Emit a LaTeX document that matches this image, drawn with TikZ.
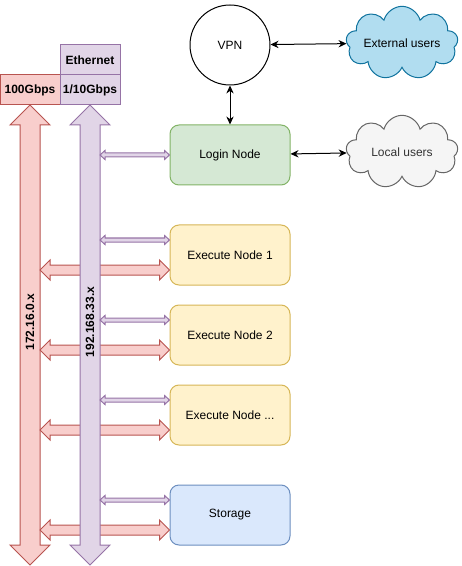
\documentclass[tikz,border=0pt]{standalone}
\usepackage{fontspec}
\setmainfont{Liberation Sans}
\usetikzlibrary{%
  arrows.meta,%
  calc,%
  positioning,%
  shapes.symbols% wg. cloud
}
\definecolor{redfill}{HTML}{F8CECC}
\definecolor{redline}{HTML}{B85450}
\definecolor{purfill}{HTML}{E1D5E7}
\definecolor{purline}{HTML}{9673A6}
\definecolor{grnfill}{HTML}{D5E8D4}
\definecolor{grnline}{HTML}{82B366}
\definecolor{ylwfill}{HTML}{FFF2CC}
\definecolor{ylwline}{HTML}{D6B656}
\definecolor{blufill}{HTML}{DAE8FC}
\definecolor{bluline}{HTML}{6C8EBF}
\definecolor{extfill}{HTML}{B1DDF0}
\definecolor{extline}{HTML}{10739E}
\definecolor{locfill}{HTML}{F5F5F5}
\definecolor{locline}{HTML}{666666}
\definecolor{loctext}{HTML}{333333}

% fat double arrow: style, from, to, half body, half head, head length
\newcommand{\fatlink}[6]{%
  \path[#1] let \p1=#2, \p2=#3 in
    (\x1,\y1) -- (\x1+#6,\y1+#5) -- (\x1+#6,\y1+#4) -- (\x2-#6,\y2+#4) -- (\x2-#6,\y2+#5)
    -- (\x2,\y2) -- (\x2-#6,\y2-#5) -- (\x2-#6,\y2-#4) -- (\x1+#6,\y1-#4) -- (\x1+#6,\y1-#5) -- cycle;}

\begin{document}
\begin{tikzpicture}
[x=0.75pt, y=-0.75pt, font=\fontsize{9}{11}\selectfont, line width=0.75pt,
hdr/.style={rectangle, draw, inner sep=0pt, minimum width=45pt, minimum height=22.5pt, font=\fontsize{9}{11}\selectfont\bfseries},
box/.style={rectangle, draw, rounded corners=6.75pt, inner sep=0pt, minimum width=90pt, minimum height=45pt},
execbox/.style={box, fill=ylwfill, draw=ylwline},
users/.style={cloud, cloud puffs=9, cloud ignores aspect, draw, inner sep=0pt, minimum width=84pt, minimum height=55pt},
link/.style={{Stealth[length=6pt,width=5.5pt]}-{Stealth[length=6pt,width=5.5pt]}, line width=0.75pt},
redbar/.style={draw=redline, fill=redfill},
purbar/.style={draw=purline, fill=purfill},
netlabel/.style={rotate=90, font=\fontsize{9}{11}\selectfont\bfseries}
]
\useasboundingbox (0,0) rectangle (461,566);

% headers
\node[hdr, fill=redfill, draw=redline] (speed100) at (30,90) {100Gbps};
\node[hdr, fill=purfill, draw=purline] (speed10) at (90,90) {1/10Gbps};
\node[hdr, fill=purfill, draw=purline] (eth) at (90,60) {Ethernet};

% outside
\node[circle, draw, inner sep=0pt, minimum size=60pt] (vpn) at (230,45) {VPN};
\node[users, draw=extline, fill=extfill] (extusers) at (402,43) {External users};
\node[users, draw=locline, fill=locfill, text=loctext] (locusers) at (402,152) {Local users};

% cluster
\node[box, fill=grnfill, draw=grnline] (login) at (230,155) {Login Node};
\node[execbox] (exec1) at (230,255) {Execute Node 1};
\node[execbox] (exec2) at (230,335) {Execute Node 2};
\node[execbox] (exec3) at (230,415) {Execute Node ...};
\node[box, fill=blufill, draw=bluline] (storage) at (230,515) {Storage};

\draw[link] (vpn) -- (extusers);
\draw[link] (vpn) -- (login);
\draw[link] (login) -- (locusers);

% 100Gbps network
\draw[redbar] (30,105) -- (50,125) -- (40,125) -- (40,545) -- (50,545) -- (30,565)
  -- (10,545) -- (20,545) -- (20,125) -- (10,125) -- cycle;
\coordinate (redtap) at (40,0);
\fatlink{redbar}{($(redtap |- exec1.west)+(0,15)$)}{($(exec1.west)+(0,15)$)}{3.75pt}{7.5pt}{7.5pt}
\fatlink{redbar}{($(redtap |- exec2.west)+(0,15)$)}{($(exec2.west)+(0,15)$)}{3.75pt}{7.5pt}{7.5pt}
\fatlink{redbar}{($(redtap |- exec3.west)+(0,15)$)}{($(exec3.west)+(0,15)$)}{3.75pt}{7.5pt}{7.5pt}
\fatlink{redbar}{($(redtap |- storage.west)+(0,15)$)}{($(storage.west)+(0,15)$)}{3.75pt}{7.5pt}{7.5pt}

% ethernet
\draw[purbar] (90,105) -- (110,125) -- (100,125) -- (100,545) -- (110,545) -- (90,565)
  -- (70,545) -- (80,545) -- (80,125) -- (70,125) -- cycle;
\coordinate (purtap) at (100,0);
\fatlink{purbar}{(purtap |- login.west)}{(login.west)}{1.5pt}{3.4pt}{3.75pt}
\fatlink{purbar}{($(purtap |- exec1.west)+(0,-15)$)}{($(exec1.west)+(0,-15)$)}{1.5pt}{3.4pt}{3.75pt}
\fatlink{purbar}{($(purtap |- exec2.west)+(0,-15)$)}{($(exec2.west)+(0,-15)$)}{1.5pt}{3.4pt}{3.75pt}
\fatlink{purbar}{($(purtap |- exec3.west)+(0,-15)$)}{($(exec3.west)+(0,-15)$)}{1.5pt}{3.4pt}{3.75pt}
\fatlink{purbar}{($(purtap |- storage.west)+(0,-15)$)}{($(storage.west)+(0,-15)$)}{1.5pt}{3.4pt}{3.75pt}

\node[netlabel] (rednet) at (30,322) {172.16.0.x};
\node[netlabel] (purnet) at (90,322) {192.168.33.x};
\end{tikzpicture}
\end{document}
